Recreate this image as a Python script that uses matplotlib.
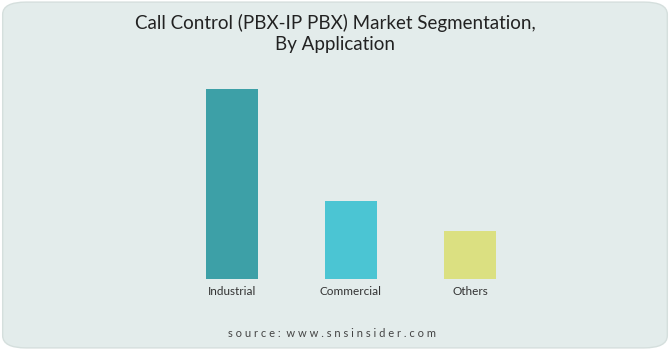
import matplotlib
matplotlib.use("Agg")
import matplotlib.pyplot as plt
from matplotlib.patches import FancyBboxPatch

# Data (relative share)
categories = ["Industrial", "Commercial", "Others"]
values = [100, 41, 25]
colors = ["#3da0a7", "#4bc5d3", "#dbe081"]

fig = plt.figure(figsize=(6.7, 3.5), dpi=100)
fig.patch.set_facecolor("white")

# rounded background panel
bg = FancyBboxPatch((0.004, 0.006), 0.992, 0.988,
                    boxstyle="round,pad=0,rounding_size=0.035",
                    transform=fig.transFigure, facecolor="#e3eceb",
                    edgecolor="#d5dfdd", linewidth=1, zorder=-5)
fig.patches.append(bg)

ax = fig.add_axes([172.5 / 670, 0.203, 357 / 670, 0.543], zorder=2)
ax.set_facecolor("none")
ax.bar(range(len(categories)), values, width=0.44, color=colors,
       edgecolor="none")
ax.set_xlim(-0.5, 2.5)
ax.set_ylim(0, 100)
ax.set_xticks(range(len(categories)))
ax.set_xticklabels(categories, fontsize=8.5, color="#333333", family="Lato")
ax.tick_params(axis="x", length=0, pad=5)
ax.set_yticks([])
for s in ax.spines.values():
    s.set_visible(False)

fig.text(0.5, 0.905, "Call Control (PBX-IP PBX) Market Segmentation,\nBy Application",
         ha="center", va="center", fontsize=13.5, color="#222222",
         family="Lato", linespacing=1.25)
fig.text(0.495, 0.048, "s o u r c e :  w w w . s n s i n s i d e r . c o m",
         ha="center", va="center", fontsize=8, color="#444444", family="Lato")

fig.savefig("out.png", dpi=100, facecolor=fig.get_facecolor())
